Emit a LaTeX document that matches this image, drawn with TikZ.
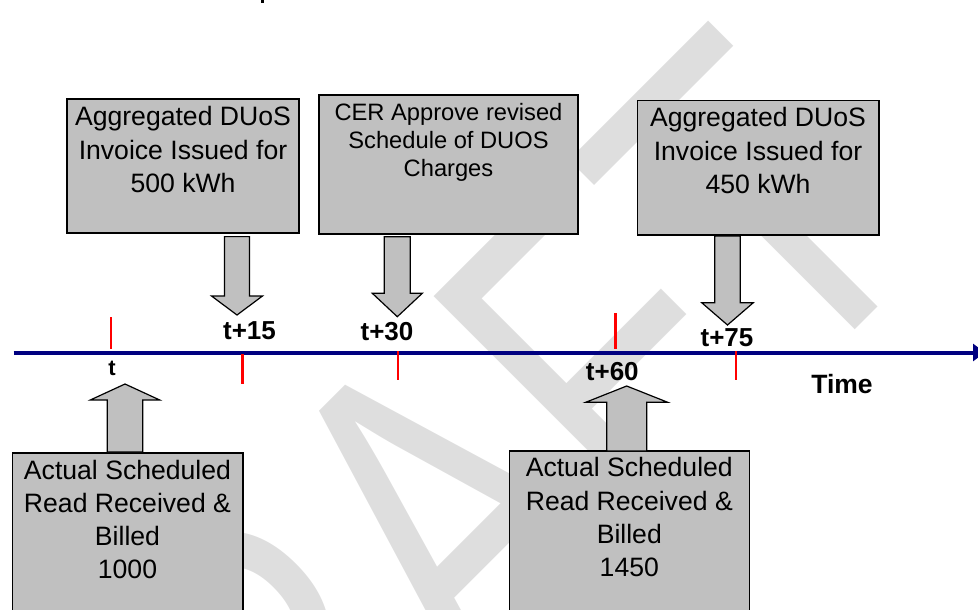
\documentclass[tikz,border=0pt]{standalone}
\usepackage{fontspec}
\setmainfont{Liberation Sans}
\newfontfamily\wmfont[Kerning=Off]{Liberation Sans}
\usetikzlibrary{arrows.meta}
\definecolor{boxgray}{RGB}{192,192,192}
\definecolor{wmgray}{RGB}{222,222,222}
\definecolor{navyline}{RGB}{0,0,128}
\definecolor{tickred}{RGB}{255,0,0}
\newcommand{\blkdown}[6]{% x, ytop, ywing, ytip, shaft half, head half
  \filldraw[blockarrow] (#1-#5,#2) -- (#1+#5,#2) -- (#1+#5,#3) -- (#1+#6,#3) -- (#1,#4) -- (#1-#6,#3) -- (#1-#5,#3) -- cycle;}
\newcommand{\blkup}[6]{% x, ybottom, ywing, ytip, shaft half, head half
  \filldraw[blockarrow] (#1-#5,#2) -- (#1+#5,#2) -- (#1+#5,#3) -- (#1+#6,#3) -- (#1,#4) -- (#1-#6,#3) -- (#1-#5,#3) -- cycle;}
\begin{document}
\begin{tikzpicture}[x=1pt,y=-1pt,
  evbox/.style={draw=black, line width=1.6pt, fill=boxgray, rectangle, anchor=north west, inner sep=0pt, outer sep=0pt},
  evtext/.style={anchor=north, inner sep=0pt, outer sep=0pt, align=center, text=black},
  bigfont/.style={font=\fontsize{26.6}{33.3}\selectfont},
  midfont/.style={font=\fontsize{23.7}{28}\selectfont},
  blockarrow/.style={draw=black, line width=1.2pt, fill=boxgray, line join=miter},
  tickmark/.style={draw=tickred, line width=2.6pt},
  ticklabel/.style={font=\bfseries\fontsize{26}{26}\selectfont, anchor=base, inner sep=0pt},
  timeline/.style={draw=navyline, line width=4pt, -{Triangle[length=12pt,width=17pt]}}
]
\useasboundingbox (0,0) rectangle (978,610);
% watermark
\node[rotate=45, inner sep=0pt, text=wmgray, font=\wmfont\fontsize{468}{468}\selectfont] (wm) at (418.2,539.8) {\scalebox{0.744}[1]{DRAFT}};
% fragment of text above
\fill[black] (261,0) rectangle (263.5,3.5);
% timeline
\coordinate (tlstart) at (13.7,352.5);
\coordinate (tlend) at (985,352.5);
\draw[timeline] (tlstart) -- (tlend);
% ticks
\draw[tickmark] (111,317) -- (111,349);
\draw[tickmark] (242.3,354) -- (242.3,384);
\draw[tickmark] (398,351) -- (398,380);
\draw[tickmark] (615.7,313) -- (615.7,348.5);
\draw[tickmark] (736,351) -- (736,380);
% tick labels
\node[ticklabel, font=\bfseries\fontsize{22}{22}\selectfont] (lt) at (112,375) {t};
\node[ticklabel] (lt15) at (249.5,339.3) {t+15};
\node[ticklabel] (lt30) at (387,340) {t+30};
\node[ticklabel] (lt60) at (612.3,380) {t+60};
\node[ticklabel] (lt75) at (727,346) {t+75};
\node[ticklabel, font=\bfseries\fontsize{26.5}{26.5}\selectfont] (ltime) at (842,393.3) {Time};
% boxes
\node[evbox, minimum width=232pt, minimum height=134pt] (b1) at (67,99) {};
\node[evtext, bigfont] (b1t) at (b1.north) {\rule{0pt}{26.7pt}Aggregated DUoS\\Invoice Issued for\\500 kWh};
\node[evbox, minimum width=259pt, minimum height=139pt] (b2) at (319,95) {};
\node[evtext, midfont] (b2t) at (b2.north) {\rule{0pt}{25.7pt}CER Approve revised\\Schedule of DUOS\\Charges};
\node[evbox, minimum width=241.4pt, minimum height=134.3pt] (b3) at (637.3,100.7) {};
\node[evtext, bigfont] (b3t) at (b3.north) {\rule{0pt}{26.2pt}Aggregated DUoS\\Invoice Issued for\\450 kWh};
\node[evbox, minimum width=230.4pt, minimum height=190pt] (b4) at (12.3,452.7) {};
\node[evtext, bigfont] (b4t) at (b4.north) {\rule{0pt}{26.3pt}Actual Scheduled\\Read Received \&\\Billed\\1000};
\node[evbox, minimum width=240pt, minimum height=190pt] (b5) at (509.3,451) {};
\node[evtext, bigfont] (b5t) at (b5.north) {\rule{0pt}{25.9pt}Actual Scheduled\\Read Received \&\\Billed\\1450};
% block arrows
\blkdown{237}{236.6}{296}{315}{12.5}{25.5}
\blkdown{397.3}{236.7}{293.3}{316.7}{13}{25}
\blkdown{727.5}{236}{302.7}{325}{12.8}{25.8}
\blkup{125}{452}{400}{384}{17.7}{34.7}
\blkup{626.7}{451}{402.3}{386}{20}{41}
\end{tikzpicture}
\end{document}
